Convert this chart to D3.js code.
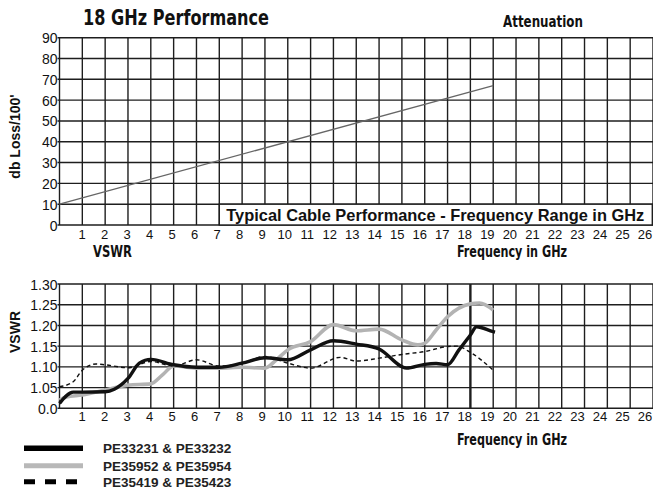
<!DOCTYPE html>
<html>
<head>
<meta charset="utf-8">
<script src="https://cdn.jsdelivr.net/npm/d3@7"></script>
<style>
  html, body { margin: 0; padding: 0; background: #fff; }
  svg { display: block; }
</style>
</head>
<body>
<script>
// ---------- data ----------
const freqTicks = d3.range(0, 27);                 // grid columns 0..26 GHz
const freqLabels = d3.range(1, 27).map(String);     // "1".."26"
const lossTicks = [0, 10, 20, 30, 40, 50, 60, 70, 80, 90];
const lossLabels = ["0", "10", "20", "30", "40", "50", "60", "70", "80", "90"];
const vswrTicks = [1.00, 1.05, 1.10, 1.15, 1.20, 1.25, 1.30];
const vswrLabels = ["0.0", "1.05", "1.10", "1.15", "1.20", "1.25", "1.30"];

const attenFreq = [0, 19];
const attenLoss = [10, 67];

const blackFreq = [0, 0.6, 1, 2, 2.4, 3, 3.5, 4, 5, 6, 7, 8, 9, 10, 11, 12, 13, 14, 15.2, 16, 16.5, 17, 17.5, 18, 18.27, 19, 19.08];
const blackVswr = [1.012, 1.039, 1.039, 1.040, 1.046, 1.072, 1.109, 1.118, 1.105, 1.099, 1.099, 1.109, 1.122, 1.117, 1.141, 1.163, 1.155, 1.143, 1.097, 1.106, 1.108, 1.105, 1.141, 1.177, 1.197, 1.185, 1.184];

const grayFreq = [0, 0.3, 1, 2, 3, 4, 4.5, 5, 6, 7, 8, 9, 9.5, 10, 11, 12, 13, 14, 15, 15.7, 16, 16.5, 17, 18, 18.4, 19];
const grayVswr = [1.020, 1.027, 1.032, 1.044, 1.056, 1.059, 1.080, 1.102, 1.097, 1.097, 1.099, 1.097, 1.117, 1.141, 1.161, 1.202, 1.187, 1.191, 1.165, 1.153, 1.157, 1.189, 1.221, 1.252, 1.254, 1.237];

const dashFreq = [0, 0.6, 1, 1.6, 2, 3, 4, 5, 6, 7, 8, 9, 10, 11, 12.3, 13, 14, 15, 16, 17, 17.4, 18, 19];
const dashVswr = [1.052, 1.064, 1.092, 1.107, 1.105, 1.098, 1.113, 1.102, 1.117, 1.102, 1.109, 1.125, 1.109, 1.097, 1.123, 1.114, 1.121, 1.130, 1.137, 1.149, 1.150, 1.135, 1.092];

const seriesNames = ["PE33231 & PE33232", "PE35952 & PE35954", "PE35419 & PE35423"];

// ---------- setup ----------
const W = 653, H = 494;
const svg = d3.select("body").append("svg").attr("width", W).attr("height", H);
svg.append("rect").attr("width", W).attr("height", H).attr("fill", "#fff");

const condensed = "'Liberation Sans Narrow', 'DejaVu Sans Condensed', 'Arial Narrow', sans-serif";
const sans = "'Liberation Sans', Arial, Helvetica, sans-serif";
const gridColor = "#1e1e1e";

const x = d3.scaleLinear().domain([0, 26]).range([59.5, 653]);
const xLab = d3.scaleLinear().domain([0, 26]).range([59.5, 645]);
const yTop = d3.scaleLinear().domain([0, 90]).range([225, 37.7]);
const yBot = d3.scaleLinear().domain([1.0, 1.3]).range([408.3, 284]);

function drawGrid(g, y, yTicks, boldCol) {
  g.selectAll("line.h").data(yTicks).join("line")
    .attr("x1", x(0) - 2).attr("x2", x(26))
    .attr("y1", d => y(d)).attr("y2", d => y(d))
    .attr("stroke", gridColor).attr("stroke-width", 1.4);
  g.selectAll("line.v").data(freqTicks).join("line")
    .attr("x1", d => x(d)).attr("x2", d => x(d))
    .attr("y1", y.range()[0]).attr("y2", y.range()[1])
    .attr("stroke", gridColor)
    .attr("stroke-width", d => d === boldCol ? 2.4 : 1.4);
}

function yLabels(g, y, ticks, labels) {
  const axis = d3.axisLeft(y).tickValues(ticks).tickSize(0).tickPadding(0)
    .tickFormat((d, i) => labels[i]);
  const ax = g.append("g").attr("transform", `translate(${x(0) - 2},0)`).call(axis);
  ax.select(".domain").remove();
  ax.selectAll("text").attr("font-family", sans).attr("font-size", 14).attr("fill", "#111").attr("dy", "0.36em");
}

function xLabels(g, baseline) {
  g.selectAll("text.xl").data(freqLabels).join("text")
    .attr("x", (d, i) => xLab(i + 1)).attr("y", baseline)
    .attr("text-anchor", "middle")
    .attr("font-family", sans).attr("font-size", 13).attr("fill", "#111")
    .text(d => d);
}

// ---------- top chart ----------
const gTop = svg.append("g");
drawGrid(gTop, yTop, lossTicks, null);

// label box
gTop.append("rect")
  .attr("x", x(7)).attr("y", yTop(10))
  .attr("width", x(26) - x(7) - 0.7).attr("height", yTop(0) - yTop(10))
  .attr("fill", "#fff").attr("stroke", gridColor).attr("stroke-width", 1.4);
gTop.append("text")
  .attr("x", x(7) + 7).attr("y", yTop(0) - 4.5)
  .attr("font-family", sans).attr("font-weight", "bold").attr("font-size", 16.5)
  .attr("textLength", 418).attr("lengthAdjust", "spacingAndGlyphs")
  .attr("fill", "#111")
  .text("Typical Cable Performance - Frequency Range in GHz");

const attenLine = d3.line().x(d => x(d[0])).y(d => yTop(d[1]));
gTop.append("path")
  .datum(attenFreq.map((f, i) => [f, attenLoss[i]]))
  .attr("d", attenLine).attr("fill", "none")
  .attr("stroke", "#666").attr("stroke-width", 1.3);

yLabels(gTop, yTop, lossTicks, lossLabels);
xLabels(gTop, 238.5);

// ---------- bottom chart ----------
const gBot = svg.append("g");
drawGrid(gBot, yBot, vswrTicks, 18);

const vLine = d3.line().x(d => x(d[0])).y(d => yBot(d[1])).curve(d3.curveMonotoneX);
const zip = (a, b) => a.map((f, i) => [f, b[i]]);

const series = [
  { data: zip(grayFreq, grayVswr), color: "#b3b3b3", width: 3.6, dash: null },
  { data: zip(dashFreq, dashVswr), color: "#111", width: 1.4, dash: "4,3" },
  { data: zip(blackFreq, blackVswr), color: "#111", width: 3.4, dash: null }
];
gBot.selectAll("path.s").data(series).join("path")
  .attr("d", d => vLine(d.data)).attr("fill", "none")
  .attr("stroke", d => d.color).attr("stroke-width", d => d.width)
  .attr("stroke-dasharray", d => d.dash)
  .attr("stroke-linecap", "butt").attr("stroke-linejoin", "round");

yLabels(gBot, yBot, vswrTicks, vswrLabels);
xLabels(gBot, 421);

// ---------- titles ----------
function condText(t, xPos, yPos, size, len) {
  svg.append("text").attr("x", xPos).attr("y", yPos)
    .attr("font-family", condensed).attr("font-weight", "bold").attr("font-size", size)
    .attr("textLength", len).attr("lengthAdjust", "spacingAndGlyphs")
    .attr("fill", "#111").text(t);
}
condText("18 GHz  Performance", 83, 25, 22, 186);
condText("Attenuation", 503, 26.5, 15.5, 80);
condText("VSWR", 93, 256.5, 15.5, 39);
condText("Frequency in GHz", 457, 257, 15, 110);
condText("Frequency in GHz", 457, 445, 15, 110);

svg.append("text")
  .attr("transform", `translate(20,${(90 + 183) / 2}) rotate(-90)`)
  .attr("text-anchor", "middle")
  .attr("font-family", sans).attr("font-weight", "bold").attr("font-size", 14)
  .attr("fill", "#111").text("db Loss/100'");
svg.append("text")
  .attr("transform", `translate(20,332) rotate(-90)`)
  .attr("text-anchor", "middle")
  .attr("font-family", sans).attr("font-weight", "bold").attr("font-size", 14)
  .attr("fill", "#111").text("VSWR");

// ---------- legend ----------
const legendY = [448.3, 465.7, 481.7];
const legendStyle = [
  { color: "#000", width: 5.5, dash: null },
  { color: "#b8b8b8", width: 5, dash: null },
  { color: "#000", width: 5, dash: "11,10" }
];
const lg = svg.append("g");
lg.selectAll("line").data(seriesNames).join("line")
  .attr("x1", 24).attr("x2", 83)
  .attr("y1", (d, i) => legendY[i]).attr("y2", (d, i) => legendY[i])
  .attr("stroke", (d, i) => legendStyle[i].color)
  .attr("stroke-width", (d, i) => legendStyle[i].width)
  .attr("stroke-dasharray", (d, i) => legendStyle[i].dash);
lg.selectAll("text").data(seriesNames).join("text")
  .attr("x", 103).attr("y", (d, i) => legendY[i]).attr("dy", "0.36em")
  .attr("font-family", sans).attr("font-weight", "bold").attr("font-size", 13.5)
  .attr("fill", "#222").text(d => d);
</script>
</body>
</html>
